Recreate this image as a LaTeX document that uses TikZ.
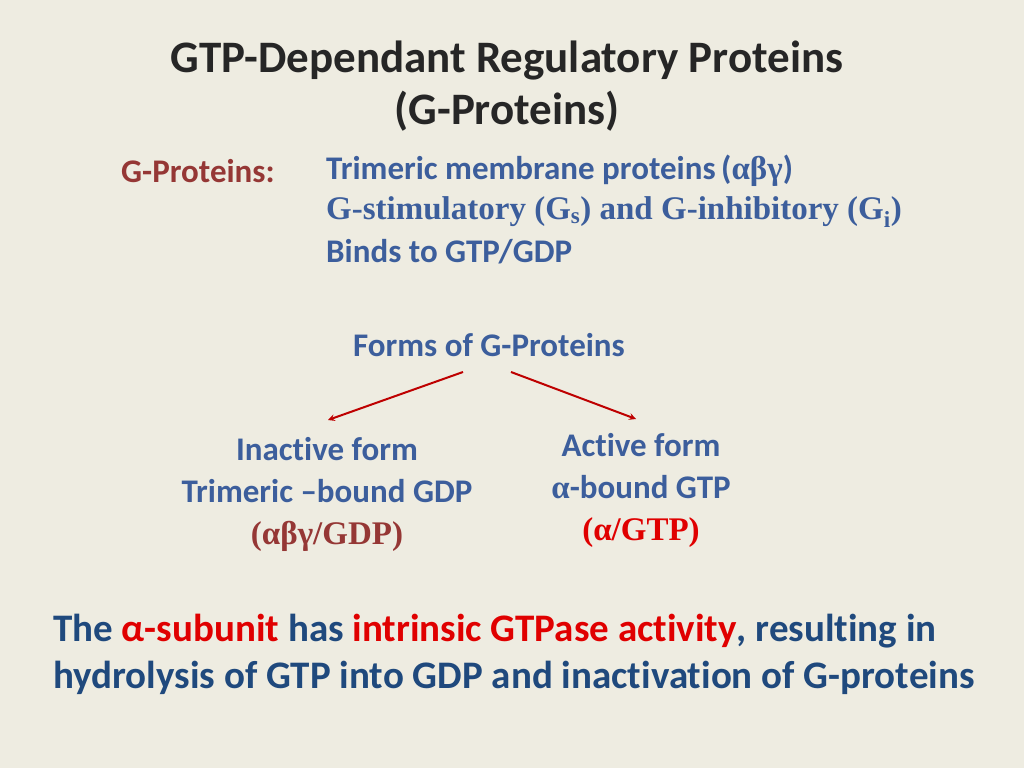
\documentclass[tikz,border=0pt]{standalone}
\usepackage{fontspec}
\setmainfont{Carlito}[Ligatures=NoCommon]
\newfontfamily\tnr{Liberation Serif}
\definecolor{bgc}{HTML}{EEECE1}
\definecolor{slateblue}{HTML}{3C5E9C}
\definecolor{navy}{HTML}{1F497D}
\definecolor{darkred}{HTML}{953735}
\definecolor{brightred}{HTML}{E00000}
\begin{document}
\begin{tikzpicture}[x=1pt,y=-1pt,
  body/.style={font=\fontsize{33}{42}\selectfont\bfseries, text=slateblue, inner sep=0pt},
  cline/.style={draw=brightred!85!black, line width=2pt, ->, >=stealth}]

\fill[bgc] (0,0) rectangle (1024,768);

\node[inner sep=0pt, align=center, font=\fontsize{45}{52}\selectfont\bfseries, text=black!85] (title) at (507,86)
  {GTP-Dependant Regulatory Proteins\\(G-Proteins)};

\node[anchor=west, inner sep=0pt, text=darkred, font=\fontsize{33}{40}\selectfont\bfseries] (gprot) at (121,171) {G-Proteins:};
\node[body, anchor=west] (l1) at (326,171) {Trimeric membrane proteins\,({\tnr αβγ})};
\node[body, anchor=west, font=\fontsize{33}{40}\selectfont\bfseries\tnr] (l2) at (326,212) {G-stimulatory (G\textsubscript{s}) and G-inhibitory (G\textsubscript{i})};
\node[body, anchor=west] (l3) at (326,252) {Binds to GTP/GDP};

\node[body] (forms) at (489,345) {Forms of G-Proteins};

\coordinate (lstart) at (463,372);
\coordinate (rstart) at (511,372);
\node[body, align=center] (inactive) at (327,494)
  {Inactive form\\Trimeric --bound GDP\\{\color{darkred}\tnr(αβγ/GDP)}};
\node[body, align=center] (active) at (641,490)
  {Active form\\{\tnr α}-bound GTP\\{\color{brightred}\tnr(α/GTP)}};
\draw[cline] (lstart) -- (328,420);
\draw[cline] (rstart) -- (636,419);

\node[inner sep=0pt, align=left, anchor=west, text=navy, font=\fontsize{39}{47}\selectfont\bfseries] (note) at (53,654)
  {The {\color{brightred}α-subunit} has {\color{brightred}intrinsic GTPase activity}, resulting in\\
   hydrolysis of GTP into GDP and inactivation of G-proteins};
\end{tikzpicture}
\end{document}
